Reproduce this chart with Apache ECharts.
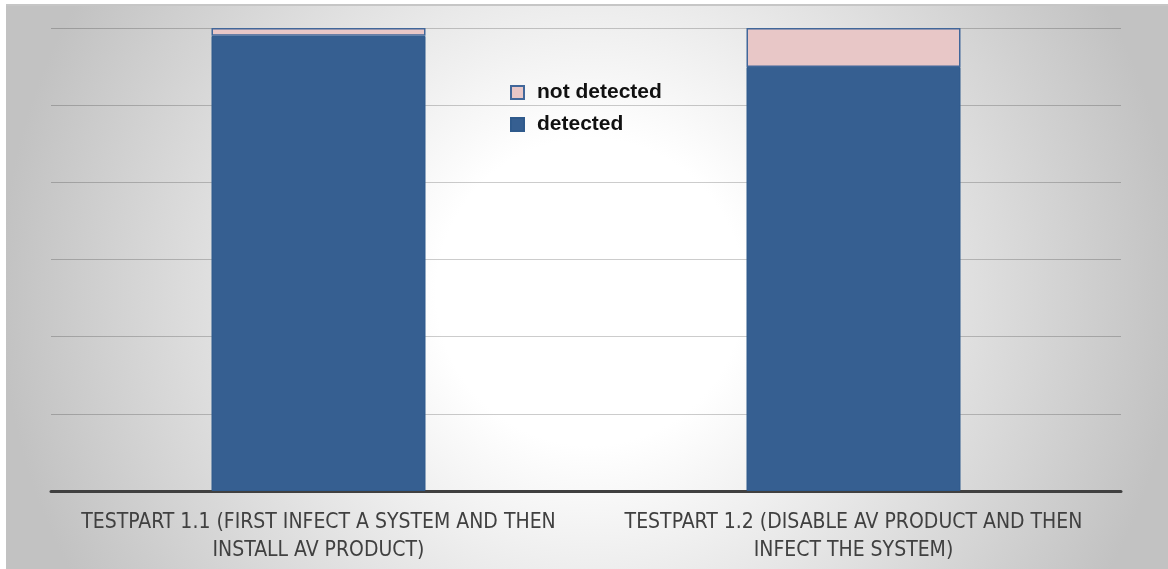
<!DOCTYPE html>
<html>
<head>
<meta charset="utf-8">
<script src="https://cdn.jsdelivr.net/npm/echarts@6/dist/echarts.min.js"></script>
<style>
html,body{margin:0;padding:0;background:#ffffff;}
#wrap{position:absolute;left:6px;top:4px;width:1162px;height:565px;border-top:2px solid #c6c6c6;
background:radial-gradient(circle 590px at 584px 286px, #ffffff 0%, #ffffff 26%, #c2c2c2 100%);}
#chart{position:absolute;left:0;top:0;width:1168px;height:569px;}
</style>
</head>
<body>
<div id="wrap"></div>
<div id="chart"></div>
<script>
var categories = [
  'TESTPART 1.1 (FIRST INFECT A SYSTEM AND THEN\nINSTALL AV PRODUCT)',
  'TESTPART 1.2 (DISABLE AV PRODUCT AND THEN\nINFECT THE SYSTEM)'
];
var detected = [98.3, 91.6];
var notDetected = [1.7, 8.4];
var legendNames = ['not detected', 'detected'];

var chart = echarts.init(document.getElementById('chart'), null, {renderer: 'canvas'});
chart.setOption({
  backgroundColor: 'transparent',
  animation: false,
  grid: {left: 51, right: 47, top: 28, bottom: 78, containLabel: false},
  legend: {
    data: legendNames,
    orient: 'vertical',
    left: 505, top: 77,
    icon: 'rect',
    itemWidth: 13, itemHeight: 13, itemGap: 11,
    textStyle: {fontFamily: 'Liberation Sans', fontWeight: 'bold', fontSize: 21, color: '#111111', padding: [0, 0, 0, 8]}
  },
  xAxis: {
    type: 'category',
    data: categories,
    axisLine: {show: true, lineStyle: {color: '#404040', width: 3}},
    axisTick: {show: false},
    axisLabel: {
      margin: 18, color: '#404040', fontSize: 21, lineHeight: 28,
      fontFamily: "'DejaVu Sans Condensed', 'Liberation Sans', sans-serif", interval: 0
    }
  },
  yAxis: {
    type: 'value', min: 0, max: 100, interval: 100 / 6,
    axisLabel: {show: false}, axisLine: {show: false}, axisTick: {show: false},
    splitLine: {lineStyle: {color: 'rgba(0,0,0,0.2)', width: 1}}
  },
  series: [
    {
      name: 'detected', type: 'bar', stack: 'total', barWidth: '40%',
      data: detected,
      itemStyle: {color: '#365f91', borderColor: '#2f5a8c', borderWidth: 1}
    },
    {
      name: 'not detected', type: 'bar', stack: 'total', barWidth: '40%',
      data: notDetected,
      itemStyle: {color: '#e8c7c7', borderColor: '#41679a', borderWidth: 1.5}
    }
  ]
});
</script>
</body>
</html>
